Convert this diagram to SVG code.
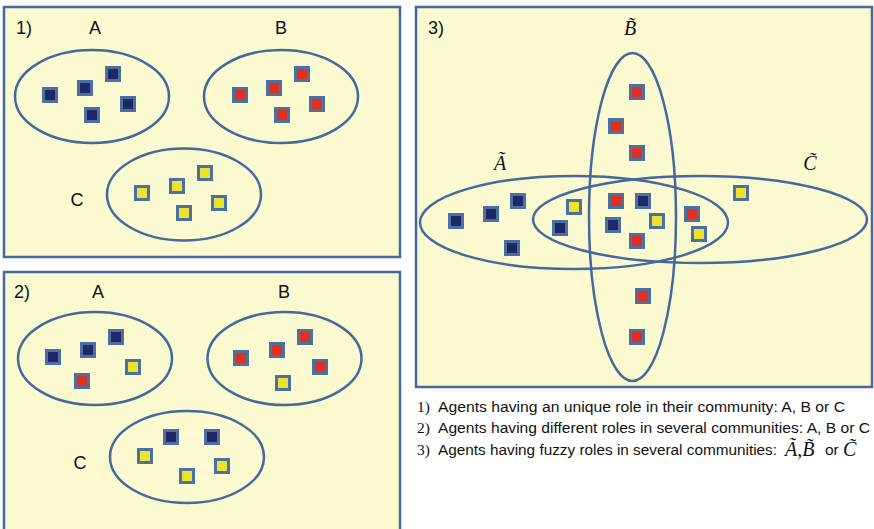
<svg xmlns="http://www.w3.org/2000/svg" width="874" height="529" viewBox="0 0 874 529">
<style>
.panel{fill:#fbf9cf;stroke:#45699c;stroke-width:2.5}
.ell{fill:none;stroke:#45699c;stroke-width:2.5}
.n{fill:#1f2768;stroke:#4c70a0;stroke-width:3}
.r{fill:#e03024;stroke:#4c70a0;stroke-width:3}
.y{fill:#ece232;stroke:#4c70a0;stroke-width:3}
.lbl{font-family:"Liberation Sans",Arial,sans-serif;font-size:18px;fill:#111}
.mth{font-family:"Liberation Serif","Times New Roman",serif;font-style:italic;font-size:20px;fill:#111}
.cap{font-family:"Liberation Sans",Arial,sans-serif;font-size:15.5px;fill:#111}
.num{font-family:"Liberation Serif","Times New Roman",serif;font-size:15.5px;fill:#111}
</style>
<defs>
<rect id="sq" x="-6.5" y="-6.5" width="13" height="13"/>
</defs>
<rect width="874" height="529" fill="#ffffff"/>

<g id="panel1">
<rect class="panel" x="4" y="7" width="396" height="250"/>
<text class="lbl" x="16" y="34">1)</text>
<g id="p1-A">
<text class="lbl" x="95" y="34" text-anchor="middle">A</text>
<ellipse class="ell" cx="92" cy="96.5" rx="77" ry="46.5"/>
<use href="#sq" class="n" x="50" y="95"/><use href="#sq" class="n" x="85" y="88"/><use href="#sq" class="n" x="113" y="74"/><use href="#sq" class="n" x="128" y="104"/><use href="#sq" class="n" x="92" y="115"/>
</g>
<g id="p1-B">
<text class="lbl" x="281" y="34" text-anchor="middle">B</text>
<ellipse class="ell" cx="281" cy="96.5" rx="77" ry="46.5"/>
<use href="#sq" class="r" x="240" y="95"/><use href="#sq" class="r" x="274" y="88"/><use href="#sq" class="r" x="302" y="74"/><use href="#sq" class="r" x="317" y="104"/><use href="#sq" class="r" x="282" y="115"/>
</g>
<g id="p1-C">
<text class="lbl" x="77" y="206" text-anchor="middle">C</text>
<ellipse class="ell" cx="184" cy="194.5" rx="77" ry="46"/>
<use href="#sq" class="y" x="142" y="193"/><use href="#sq" class="y" x="177" y="186"/><use href="#sq" class="y" x="205" y="173"/><use href="#sq" class="y" x="219" y="203"/><use href="#sq" class="y" x="184" y="213"/>
</g>
</g>

<g id="panel2">
<rect class="panel" x="4" y="272" width="396" height="270"/>
<text class="lbl" x="14" y="298">2)</text>
<g id="p2-A">
<text class="lbl" x="98" y="298" text-anchor="middle">A</text>
<ellipse class="ell" cx="95" cy="358.5" rx="77" ry="46.5"/>
<use href="#sq" class="n" x="53" y="357"/><use href="#sq" class="n" x="88" y="350"/><use href="#sq" class="n" x="116" y="337"/><use href="#sq" class="y" x="133" y="367"/><use href="#sq" class="r" x="82" y="381"/>
</g>
<g id="p2-B">
<text class="lbl" x="284" y="298" text-anchor="middle">B</text>
<ellipse class="ell" cx="284.5" cy="358.5" rx="77" ry="46.5"/>
<use href="#sq" class="r" x="241" y="358"/><use href="#sq" class="r" x="277" y="350"/><use href="#sq" class="r" x="305" y="337"/><use href="#sq" class="r" x="320" y="367"/><use href="#sq" class="y" x="283" y="383"/>
</g>
<g id="p2-C">
<text class="lbl" x="80" y="469" text-anchor="middle">C</text>
<ellipse class="ell" cx="187" cy="457" rx="77" ry="46"/>
<use href="#sq" class="n" x="171" y="437"/><use href="#sq" class="n" x="212" y="437"/><use href="#sq" class="y" x="145" y="456"/><use href="#sq" class="y" x="222" y="466"/><use href="#sq" class="y" x="187" y="476"/>
</g>
</g>

<g id="panel3">
<rect class="panel" x="416" y="7" width="456" height="380"/>
<text class="lbl" x="428" y="34">3)</text>
<g id="p3-B">
<text class="mth" x="630" y="35" text-anchor="middle">B&#771;</text>
<ellipse class="ell" cx="632.5" cy="217" rx="43.5" ry="164"/>
</g>
<g id="p3-A">
<text class="mth" x="500" y="170" text-anchor="middle">Ã</text>
<ellipse class="ell" cx="574" cy="222.5" rx="154" ry="46.5"/>
</g>
<g id="p3-C">
<text class="mth" x="810" y="170" text-anchor="middle">C&#771;</text>
<ellipse class="ell" cx="700" cy="219.5" rx="167" ry="43.5"/>
</g>
<g id="p3-agents">
<use href="#sq" class="r" x="637" y="92"/><use href="#sq" class="r" x="616" y="126"/><use href="#sq" class="r" x="637" y="153"/>
<use href="#sq" class="n" x="456" y="221"/><use href="#sq" class="n" x="491" y="214"/><use href="#sq" class="n" x="518" y="201"/><use href="#sq" class="n" x="512" y="248"/><use href="#sq" class="n" x="560" y="228"/>
<use href="#sq" class="y" x="574" y="207"/><use href="#sq" class="r" x="616" y="201"/><use href="#sq" class="n" x="643" y="201"/><use href="#sq" class="n" x="613" y="225"/><use href="#sq" class="y" x="657" y="221"/><use href="#sq" class="r" x="637" y="241"/>
<use href="#sq" class="r" x="692" y="214"/><use href="#sq" class="y" x="699" y="234"/><use href="#sq" class="y" x="741" y="193"/>
<use href="#sq" class="r" x="643" y="296"/><use href="#sq" class="r" x="637" y="337"/>
</g>
</g>

<g id="legend">
<text class="num" x="417" y="412">1)</text>
<text class="cap" x="438" y="412" textLength="407" lengthAdjust="spacingAndGlyphs">Agents having an unique role in their community: A, B or C</text>
<text class="num" x="417" y="433">2)</text>
<text class="cap" x="438" y="433" textLength="432" lengthAdjust="spacingAndGlyphs">Agents having different roles in several communities: A, B or C</text>
<text class="num" x="417" y="455">3)</text>
<text class="cap" x="438" y="455" textLength="339" lengthAdjust="spacingAndGlyphs">Agents having fuzzy roles in several communities:</text>
<text class="mth" x="785" y="456" font-size="19">Ã,B&#771;</text>
<text class="cap" x="825" y="455">or</text>
<text class="mth" x="843" y="456" font-size="19">C&#771;</text>
</g>
</svg>
